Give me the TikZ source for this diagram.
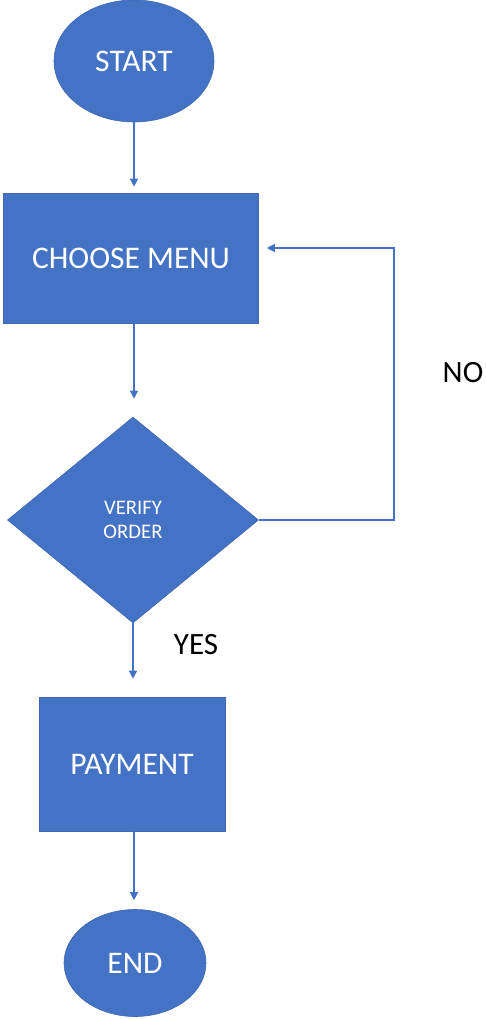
\documentclass[tikz,border=0pt]{standalone}
\usepackage{fontspec}
\setmainfont{Carlito}
\usetikzlibrary{shapes.geometric,arrows.meta}
\definecolor{offblue}{HTML}{4472C4}
\definecolor{offedge}{HTML}{3F68B4}
\tikzset{
  terminal/.style={ellipse, fill=offblue, draw=offedge, line width=0.6pt, text=white, inner sep=0pt, font=\fontsize{31.5}{36}\selectfont},
  procbox/.style={rectangle, fill=offblue, draw=offedge, line width=0.6pt, text=white, inner sep=0pt, font=\fontsize{31.5}{36}\selectfont},
  decision/.style={diamond, fill=offblue, draw=offedge, line width=0.6pt, text=white, inner sep=0pt, align=center, font=\fontsize{20.7}{24}\selectfont},
  conn/.style={draw=offblue, line width=1.3pt, -{Triangle[length=8pt,width=8pt]}},
  lbl/.style={text=black, inner sep=0pt, font=\fontsize{31}{36}\selectfont}
}
\begin{document}
\begin{tikzpicture}[x=1pt,y=-1pt]
\useasboundingbox (0,0) rectangle (486,1019);
\node[terminal, minimum width=160pt, minimum height=122pt] (start) at (134,61) {START};
\node[procbox, minimum width=255pt, minimum height=130pt] (menu) at (131,258) {CHOOSE MENU};
\node[decision, minimum width=251pt, minimum height=206pt] (verify) at (133,520) {VERIFY\\ORDER};
\node[procbox, minimum width=186pt, minimum height=134pt] (pay) at (132,764) {PAYMENT};
\node[terminal, minimum width=142pt, minimum height=107pt] (end) at (135,963) {END};
\node[lbl] (no) at (463,373) {NO};
\node[lbl] (yes) at (196,645) {YES};
\coordinate (loopc) at (394,520);
\draw[conn, shorten >=6pt] (start.south) -- (start.south |- menu.north);
\draw[conn, shorten >=18pt] (menu.south -| start.south) -- (start.south |- verify.north);
\draw[conn, shorten >=18pt] (verify.south) -- (verify.south |- pay.north);
\draw[conn, shorten >=9pt] (pay.south -| start.south) -- (start.south |- end.north);
\draw[conn, shorten >=8pt] (verify.east) -- (verify.east -| loopc) |- ([yshift=10pt]menu.east);
\end{tikzpicture}
\end{document}
